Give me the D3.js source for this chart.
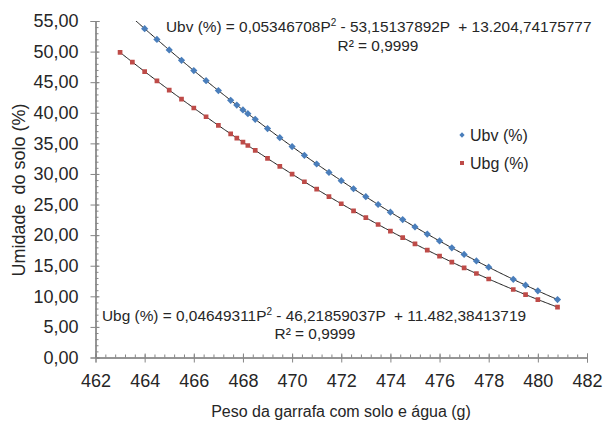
<!DOCTYPE html>
<html>
<head>
<meta charset="utf-8">
<script src="https://cdn.jsdelivr.net/npm/d3@7"></script>
<style>
  body { margin: 0; background: #fff; }
  svg { display: block; font-family: "Liberation Sans", Arial, sans-serif; }
</style>
</head>
<body>
<script>
var width = 604,
    height = 427

// peso da garrafa com solo e agua (g)
var peso = [463, 463.5, 464, 464.5, 465, 465.5, 466, 466.5, 467, 467.5, 467.75, 468, 468.2, 468.5,
  469, 469.5, 470, 470.5, 471, 471.5, 472, 472.5, 473, 473.5, 474, 474.5, 475, 475.5,
  476, 476.5, 477, 477.5, 478, 479, 479.5, 480, 480.8];

var ubv = [57.34, 55.53, 53.75, 51.99, 50.27, 48.57, 46.90, 45.25, 43.63, 42.04, 41.25, 40.47, 39.85, 38.93,
  37.42, 35.93, 34.47, 33.04, 31.63, 30.25, 28.90, 27.58, 26.28, 25.01, 23.76, 22.54, 21.35, 20.18,
  19.05, 17.93, 16.85, 15.79, 14.76, 12.78, 11.82, 10.90, 9.47];

var ubg = [49.86, 48.29, 46.74, 45.21, 43.71, 42.23, 40.78, 39.35, 37.94, 36.55, 35.87, 35.19, 34.65, 33.85,
  32.54, 31.24, 29.98, 28.73, 27.51, 26.31, 25.13, 23.98, 22.85, 21.74, 20.66, 19.60, 18.56, 17.55,
  16.56, 15.59, 14.65, 13.73, 12.83, 11.11, 10.28, 9.47, 8.24];

// coeficientes mostrados no grafico
var coefUbv = [0.05346708, -53.15137892, 13204.74175777];
var coefUbg = [0.04649311, -46.21859037, 11482.38413719];

var xTicks = [462, 464, 466, 468, 470, 472, 474, 476, 478, 480, 482];
var yTicks = [0, 5, 10, 15, 20, 25, 30, 35, 40, 45, 50, 55];

var svg = d3.select("body").append("svg")
    .attr("width", width)
    .attr("height", height);

var x = d3.scaleLinear().domain([462, 482]).range([95.5, 587]);
var y = d3.scaleLinear().domain([0, 55]).range([357.5, 21]);

var fmt = function(d) { return d.toFixed(2).replace(".", ","); };
var axisColor = "#868686";

svg.append("clipPath").attr("id", "plot")
  .append("rect")
    .attr("x", x(462)).attr("y", y(55))
    .attr("width", x(482) - x(462)).attr("height", y(0) - y(55));

// eixo y
var gy = svg.append("g").attr("transform", "translate(" + x(462) + ",0)");
gy.append("g").call(d3.axisRight(y).tickValues(d3.range(0, 56, 1)).tickSize(3).tickFormat(""));
gy.append("g").call(d3.axisRight(y).tickValues(yTicks).tickSize(4).tickFormat(""));
gy.append("g").call(d3.axisLeft(y).tickValues(yTicks).tickSize(5).tickPadding(12).tickFormat(fmt));

// eixo x
var gx = svg.append("g").attr("transform", "translate(0," + y(0) + ")");
gx.append("g").call(d3.axisTop(x).tickValues(d3.range(462, 482.01, 0.4)).tickSize(3).tickFormat(""));
gx.append("g").call(d3.axisTop(x).tickValues(xTicks).tickSize(4).tickFormat(""));
gx.append("g").call(d3.axisBottom(x).tickValues(xTicks).tickSize(5).tickPadding(12).tickFormat(d3.format("d")));

svg.selectAll(".domain, .tick line").attr("stroke", axisColor);
svg.selectAll(".tick text")
    .style("font-size", "18px")
    .attr("fill", "#262626");

// linhas de tendencia
var plot = svg.append("g").attr("clip-path", "url(#plot)");
var samples = d3.range(463, 480.81, 0.05);
function poly(c) { return function(p) { return c[0] * p * p + c[1] * p + c[2]; }; }
var line = d3.line();

[coefUbv, coefUbg].forEach(function(c) {
  var f = poly(c);
  plot.append("path")
      .attr("d", line(samples.map(function(p) { return [x(p), y(f(p))]; })))
      .attr("fill", "none")
      .attr("stroke", "#1a1a1a")
      .attr("stroke-width", 1);
});

var diamond = d3.symbol().type(d3.symbolSquare).size(26);
var square = d3.symbol().type(d3.symbolSquare).size(22);

plot.selectAll(".ubv")
    .data(peso.map(function(p, i) { return [p, ubv[i]]; }))
  .enter().append("path")
    .attr("class", "ubv")
    .attr("d", diamond)
    .attr("transform", function(d) { return "translate(" + x(d[0]) + "," + y(d[1]) + ") rotate(45)"; })
    .attr("fill", "#4a7ebb");

plot.selectAll(".ubg")
    .data(peso.map(function(p, i) { return [p, ubg[i]]; }))
  .enter().append("path")
    .attr("class", "ubg")
    .attr("d", square)
    .attr("transform", function(d) { return "translate(" + x(d[0]) + "," + y(d[1]) + ")"; })
    .attr("fill", "#be4b48");

// equacoes: antes do expoente, expoente, depois
function equation(tx, ty, a, sup, b) {
  var t = svg.append("text")
      .attr("x", tx).attr("y", ty)
      .attr("fill", "#262626")
      .style("font-size", "15.4px")
      .style("white-space", "pre");
  t.append("tspan").text(a);
  t.append("tspan").attr("dy", -6).style("font-size", "10px").text(sup);
  t.append("tspan").attr("dy", 6).text(b);
  return t;
}

equation(166, 32, "Ubv (%) = 0,05346708P", "2", " - 53,15137892P  + 13.204,74175777");
svg.append("text").attr("x", 378).attr("y", 51).attr("text-anchor", "middle")
    .attr("fill", "#262626").style("font-size", "15.4px").text("R² = 0,9999");

equation(102, 321, "Ubg (%) = 0,04649311P", "2", " - 46,21859037P  + 11.482,38413719");
svg.append("text").attr("x", 315).attr("y", 339).attr("text-anchor", "middle")
    .attr("fill", "#262626").style("font-size", "15.4px").text("R² = 0,9999");

// legenda
var legend = svg.append("g");
legend.append("path").attr("d", d3.symbol().type(d3.symbolSquare).size(14))
    .attr("transform", "translate(462,135) rotate(45)").attr("fill", "#4a7ebb");
legend.append("path").attr("d", d3.symbol().type(d3.symbolSquare).size(16))
    .attr("transform", "translate(462,163)").attr("fill", "#be4b48");
legend.append("text").attr("x", 470).attr("y", 141).style("font-size", "16px")
    .attr("fill", "#262626").text("Ubv (%)");
legend.append("text").attr("x", 470).attr("y", 169).style("font-size", "16px")
    .attr("fill", "#262626").text("Ubg (%)");

// titulos dos eixos
svg.append("text")
    .attr("x", 341).attr("y", 417)
    .attr("text-anchor", "middle")
    .style("font-size", "16px")
    .attr("fill", "#262626")
    .text("Peso da garrafa com solo e água (g)");

svg.append("text")
    .attr("transform", "translate(25,190) rotate(-90)")
    .attr("text-anchor", "middle")
    .style("font-size", "18px")
    .style("white-space", "pre")
    .attr("fill", "#262626")
    .text("Umidade  do solo (%)");
</script>
</body>
</html>
